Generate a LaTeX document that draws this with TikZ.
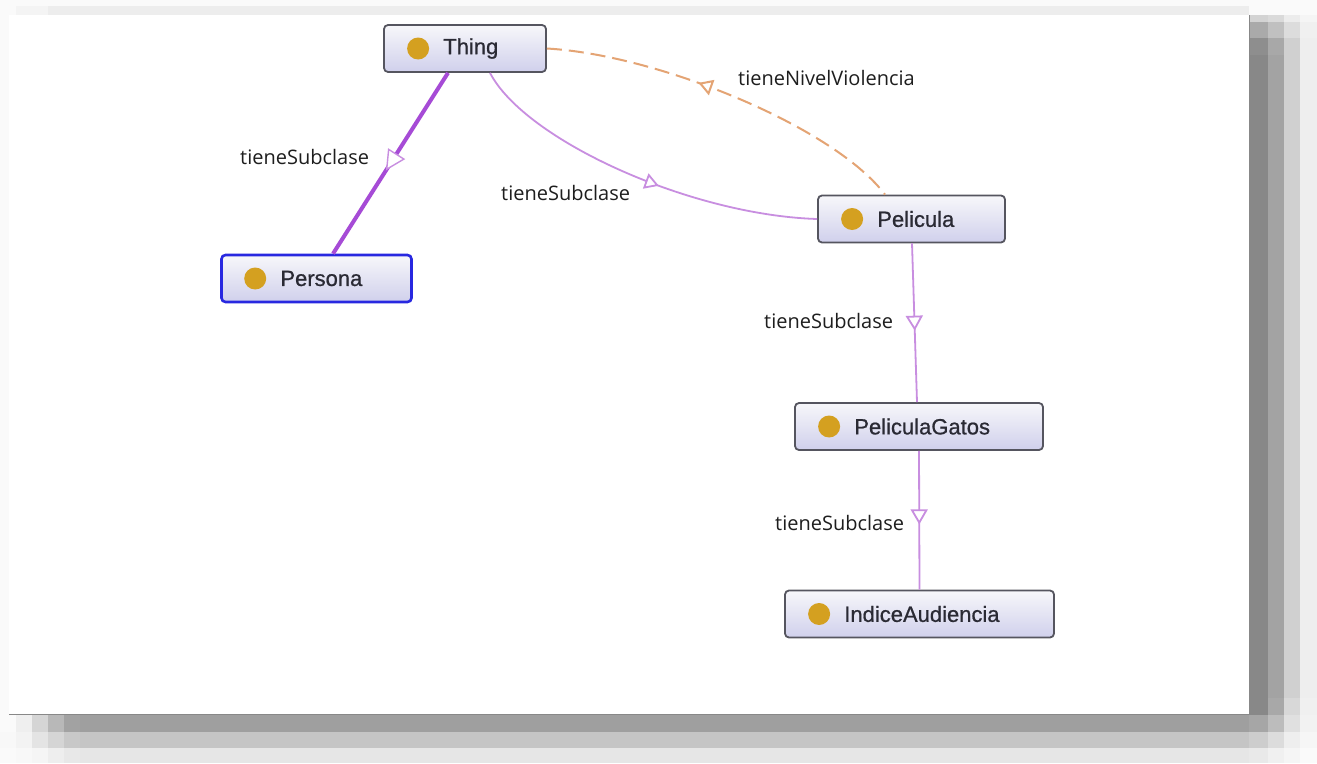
\documentclass[tikz,border=0pt]{standalone}
\usepackage{fontspec}
\setmainfont{Liberation Sans}
\newfontfamily\clsfont{Liberation Sans}[AutoFakeBold=0.8]
\newfontfamily\lblfont{Open Sans}
\usetikzlibrary{arrows.meta,decorations.markings}
\definecolor{thickp}{HTML}{A64BD6}
\definecolor{thinp}{HTML}{C88EE0}
\definecolor{dashor}{HTML}{E4A474}
\definecolor{gold}{HTML}{D4A020}
\definecolor{boxborder}{HTML}{55555F}
\definecolor{selborder}{HTML}{2828E0}
\definecolor{boxtop}{HTML}{F7F7FA}
\definecolor{boxbot}{HTML}{D0D0EC}
\definecolor{nametext}{HTML}{2A2A34}
\definecolor{labeltext}{HTML}{1E1E1E}
\begin{document}
\begin{tikzpicture}[x=1pt,y=-1pt,
  classbox/.style={draw=boxborder, line width=1.8pt, rounded corners=4pt, top color=boxtop, bottom color=boxbot, inner sep=0pt, minimum height=47pt},
  selbox/.style={classbox, draw=selborder, line width=2.6pt},
  clsname/.style={anchor=west, font=\clsfont\bfseries\fontsize{22}{24}\selectfont, text=nametext, inner sep=0pt},
  edgelabel/.style={anchor=west, font=\lblfont\fontsize{20}{22}\selectfont, text=labeltext, inner sep=0pt},
  subedge/.style={draw=thinp, line width=1.8pt},
  thickedge/.style={draw=thickp, line width=4pt},
  propedge/.style={draw=dashor, line width=2pt, dash pattern=on 15pt off 7pt},
]
\useasboundingbox (0,0) rectangle (1317,763);
% background and drop shadow
\fill[fill={rgb,255:red,250;green,250;blue,250}] (0,0) rectangle (1317,763);
\fill[fill={rgb,255:red,237;green,237;blue,237}] (48,6) rectangle (1249,15);
\fill[fill={rgb,255:red,244;green,244;blue,244}] (16,6) rectangle (48,15);
\foreach \ya/\yb/\ga/\gb/\gc/\gd in {15/22/211/218/236/245, 22/38/170/192/220/240, 38/55/142/168/208/238, 55/698/136/163/208/238, 698/715/136/168/216/240, 715/732/166/188/224/242, 732/748/205/220/238/246, 748/763/233/240/245/250}{
  \fill[fill={rgb,255:red,\ga;green,\ga;blue,\ga}] (1249,\ya) rectangle (1268,\yb);
  \fill[fill={rgb,255:red,\gb;green,\gb;blue,\gb}] (1268,\ya) rectangle (1284,\yb);
  \fill[fill={rgb,255:red,\gc;green,\gc;blue,\gc}] (1284,\ya) rectangle (1300,\yb);
  \fill[fill={rgb,255:red,\gd;green,\gd;blue,\gd}] (1300,\ya) rectangle (1317,\yb);
}
\foreach \ya/\yb/\ga/\gb/\gc/\gd/\ge/\gf in {714/732/250/239/213/184/162/159, 732/748/248/243/228/213/200/197, 748/763/250/248/245/238/232/230}{
  \fill[fill={rgb,255:red,\ga;green,\ga;blue,\ga}] (0,\ya) rectangle (16,\yb);
  \fill[fill={rgb,255:red,\gb;green,\gb;blue,\gb}] (16,\ya) rectangle (32,\yb);
  \fill[fill={rgb,255:red,\gc;green,\gc;blue,\gc}] (32,\ya) rectangle (48,\yb);
  \fill[fill={rgb,255:red,\gd;green,\gd;blue,\gd}] (48,\ya) rectangle (64,\yb);
  \fill[fill={rgb,255:red,\ge;green,\ge;blue,\ge}] (64,\ya) rectangle (80,\yb);
  \fill[fill={rgb,255:red,\gf;green,\gf;blue,\gf}] (80,\ya) rectangle (1249,\yb);
}
\fill[white] (9,15) rectangle (1249,714);
\draw[line width=1pt, draw={rgb,255:red,136;green,136;blue,136}] (9,714) -- (1249,714) -- (1249,15);

% class nodes
\node[classbox, minimum width=162pt] (thing) at (465,48.5) {};
\node[selbox, minimum width=190pt] (persona) at (316.5,278.5) {};
\node[classbox, minimum width=187pt] (pelicula) at (911.5,219) {};
\node[classbox, minimum width=248pt] (pgatos) at (919,426.5) {};
\node[classbox, minimum width=269pt] (indice) at (919.5,614) {};
\foreach \n in {thing,persona,pelicula,pgatos,indice}{
  \fill[gold] ([xshift=35pt]\n.west) circle (11pt);
}
\node[clsname] (thingt) at ([xshift=60pt]thing.west) {Thing};
\node[clsname] (personat) at ([xshift=60pt]persona.west) {Persona};
\node[clsname] (peliculat) at ([xshift=60pt]pelicula.west) {Pelicula};
\node[clsname] (pgatost) at ([xshift=60pt]pgatos.west) {PeliculaGatos};
\node[clsname] (indicet) at ([xshift=60pt]indice.west) {IndiceAudiencia};

% connectors
\draw[thickedge, postaction={decorate, decoration={markings, mark=at position 0.54 with {\arrow[line width=1.4pt, draw=thinp]{Triangle[length=20pt, width=20pt, fill=white]}}}}]
  ([xshift=-17pt]thing.south) -- ([xshift=16.5pt]persona.north);
\draw[subedge, postaction={decorate, decoration={markings, mark=at position 0.56 with {\arrow{Triangle[length=14pt, width=16pt, fill=white]}}}}]
  ([xshift=25pt]thing.south) .. controls (525,140) and (690,215) .. (pelicula.west);
\draw[propedge, postaction={decorate, decoration={markings, mark=at position 0.415 with {\arrowreversed[solid]{Triangle[length=14pt, width=16pt, fill=white]}}}}]
  (thing.east) .. controls (660,55) and (835,128) .. ([xshift=-26.5pt]pelicula.north);
\draw[subedge, postaction={decorate, decoration={markings, mark=at position 0.55 with {\arrow{Triangle[length=15pt, width=17pt, fill=white]}}}}]
  ([xshift=0.5pt]pelicula.south) -- ([xshift=-2pt]pgatos.north);
\draw[subedge, postaction={decorate, decoration={markings, mark=at position 0.53 with {\arrow{Triangle[length=15pt, width=17pt, fill=white]}}}}]
  (pgatos.south) -- (indice.north);

% edge labels
\node[edgelabel] (l1) at (240,157) {tieneSubclase};
\node[edgelabel] (l2) at (501,193) {tieneSubclase};
\node[edgelabel] (l3) at (738,78) {tieneNivelViolencia};
\node[edgelabel] (l4) at (764,321) {tieneSubclase};
\node[edgelabel] (l5) at (775,523) {tieneSubclase};
\end{tikzpicture}
\end{document}
